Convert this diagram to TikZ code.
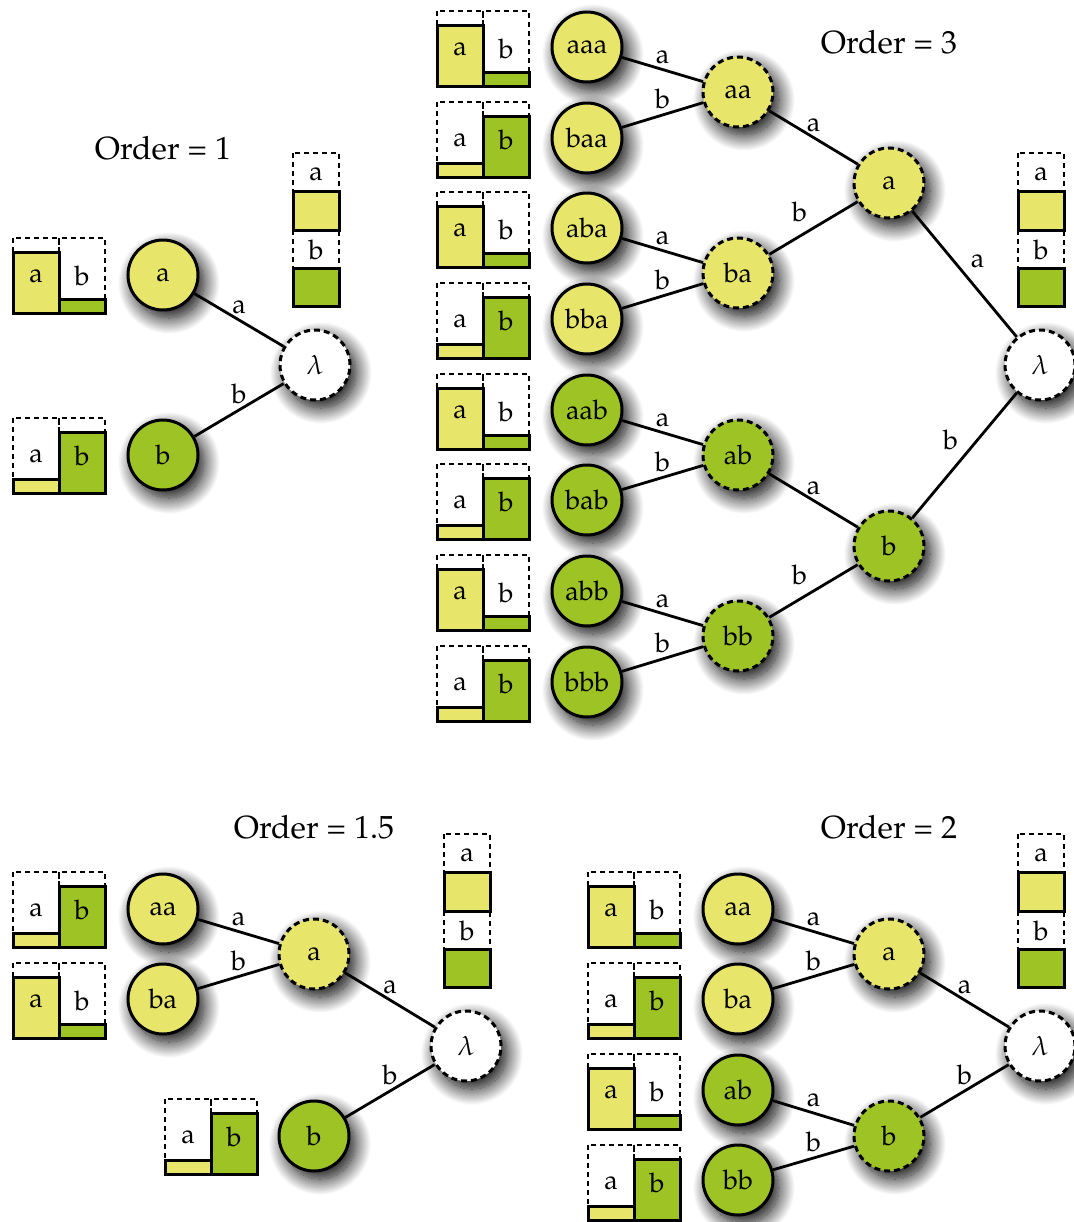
\documentclass[tikz,border=0pt]{standalone}
\usepackage[T1]{fontenc}
\usepackage{mathpazo}
\usepackage{tikz}
\usetikzlibrary{shadows.blur}
\definecolor{ylw}{RGB}{232,230,106}
\definecolor{grn}{RGB}{157,196,36}

\begin{document}
\begin{tikzpicture}[x=0.5pt, y=-0.5pt,
  state/.style={circle, draw, line width=1.5pt, minimum size=35pt, inner sep=0pt,
    font=\fontsize{13.5}{15}\selectfont,
    blur shadow={shadow xshift=3pt, shadow yshift=-4pt, shadow blur radius=8pt, shadow opacity=100, shadow blur steps=20}},
  leafa/.style={state, fill=ylw},
  leafb/.style={state, fill=grn},
  ctxa/.style={state, fill=ylw, dash pattern=on 3pt off 2pt},
  ctxb/.style={state, fill=grn, dash pattern=on 3pt off 2pt},
  rootnode/.style={state, fill=white, dash pattern=on 3pt off 2pt},
  link/.style={line width=1.4pt},
  elab/.style={font=\fontsize{13.5}{15}\selectfont, inner sep=2.5pt},
  slot/.style={dash pattern=on 2.5pt off 2pt, line width=0.6pt},
  bar/.style={draw, line width=1.5pt},
  lbl/.style={font=\fontsize{13.5}{15}\selectfont},
  title/.style={font=\fontsize{16}{19}\selectfont}]

  \useasboundingbox (0,0) rectangle (1074,1222); % page size

  % bar charts: left x / top y / height a / height b
  \foreach \x/\y/\ha/\hb in {13/238/61/14, 13/418/14/61,
      437/11/61/14, 437/102/14/61, 437/192/61/14, 437/283/14/61,
      437/374/61/14, 437/464/14/61, 437/555/61/14, 437/646/14/61,
      13/872/14/61, 13/963/61/14, 165/1099/14/61,
      588/872/61/14, 588/963/14/61, 588/1054/61/14, 588/1145/14/61}{
    \draw[slot] (\x,\y) rectangle ++(46,75) (\x+46,\y) rectangle ++(46,75);
    \draw[bar, fill=ylw] (\x,\y+75) rectangle ++(46,-\ha);
    \draw[bar, fill=grn] (\x+46,\y+75) rectangle ++(46,-\hb);
    \node[lbl] (ca\x-\y) at (\x+23,\y+37.5) {a};
    \node[lbl] (cb\x-\y) at (\x+69,\y+37.5) {b};
  }

  % legends
  \foreach \x/\y in {293/153, 1018/153, 444/834, 1018/834}{
    \draw[slot] (\x,\y) rectangle ++(46,38.5);
    \node[lbl] (la\x-\y) at (\x+23,\y+21) {a};
    \draw[bar, fill=ylw] (\x,\y+38.5) rectangle ++(46,38.5);
    \draw[slot] (\x,\y+77) rectangle ++(46,38.5);
    \node[lbl] (lb\x-\y) at (\x+23,\y+97) {b};
    \draw[bar, fill=grn] (\x,\y+115.5) rectangle ++(46,38);
  }

  % Order = 1
  \node[title] (t1) at (163,148) {Order = 1};
  \node[leafa] (o1a) at (163,275) {a};
  \node[leafb] (o1b) at (163,455) {b};
  \node[rootnode] (o1r) at (315,365) {$\lambda$};
  \draw[link] (o1a) -- node[elab, above] {a} (o1r);
  \draw[link] (o1b) -- node[elab, above] {b} (o1r);

  % Order = 3
  \node[title] (t3) at (889,42) {Order = 3};
  \node[leafa] (o3aaa) at (587,47) {aaa};
  \node[leafa] (o3baa) at (587,138) {baa};
  \node[leafa] (o3aba) at (587,228) {aba};
  \node[leafa] (o3bba) at (587,319) {bba};
  \node[leafb] (o3aab) at (587,410) {aab};
  \node[leafb] (o3bab) at (587,500) {bab};
  \node[leafb] (o3abb) at (587,591) {abb};
  \node[leafb] (o3bbb) at (587,682) {bbb};
  \node[ctxa] (o3aa) at (738,92) {aa};
  \node[ctxa] (o3ba) at (738,273) {ba};
  \node[ctxb] (o3ab) at (738,455) {ab};
  \node[ctxb] (o3bb) at (738,636) {bb};
  \node[ctxa] (o3a) at (889,183) {a};
  \node[ctxb] (o3b) at (889,546) {b};
  \node[rootnode] (o3r) at (1040,365) {$\lambda$};
  \draw[link] (o3aaa) -- node[elab, above] {a} (o3aa);
  \draw[link] (o3baa) -- node[elab, above] {b} (o3aa);
  \draw[link] (o3aba) -- node[elab, above] {a} (o3ba);
  \draw[link] (o3bba) -- node[elab, above] {b} (o3ba);
  \draw[link] (o3aab) -- node[elab, above] {a} (o3ab);
  \draw[link] (o3bab) -- node[elab, above] {b} (o3ab);
  \draw[link] (o3abb) -- node[elab, above] {a} (o3bb);
  \draw[link] (o3bbb) -- node[elab, above] {b} (o3bb);
  \draw[link] (o3aa) -- node[elab, above] {a} (o3a);
  \draw[link] (o3ba) -- node[elab, above left] {b} (o3a);
  \draw[link] (o3ab) -- node[elab, above] {a} (o3b);
  \draw[link] (o3bb) -- node[elab, above left] {b} (o3b);
  \draw[link] (o3a) -- node[elab, above right] {a} (o3r);
  \draw[link] (o3b) -- node[elab, above left] {b} (o3r);

  % Order = 1.5
  \node[title] (t15) at (314,827) {Order = 1.5};
  \node[leafa] (o15aa) at (163,909) {aa};
  \node[leafa] (o15ba) at (163,999) {ba};
  \node[ctxa] (o15a) at (314,954) {a};
  \node[leafb] (o15b) at (314,1136) {b};
  \node[rootnode] (o15r) at (466,1046) {$\lambda$};
  \draw[link] (o15aa) -- node[elab, above] {a} (o15a);
  \draw[link] (o15ba) -- node[elab, above] {b} (o15a);
  \draw[link] (o15a) -- node[elab, above] {a} (o15r);
  \draw[link] (o15b) -- node[elab, above] {b} (o15r);

  % Order = 2
  \node[title] (t2) at (889,827) {Order = 2};
  \node[leafa] (o2aa) at (738,909) {aa};
  \node[leafa] (o2ba) at (738,999) {ba};
  \node[leafb] (o2ab) at (738,1090) {ab};
  \node[leafb] (o2bb) at (738,1180) {bb};
  \node[ctxa] (o2a) at (889,954) {a};
  \node[ctxb] (o2b) at (889,1136) {b};
  \node[rootnode] (o2r) at (1040,1046) {$\lambda$};
  \draw[link] (o2aa) -- node[elab, above] {a} (o2a);
  \draw[link] (o2ba) -- node[elab, above] {b} (o2a);
  \draw[link] (o2ab) -- node[elab, above] {a} (o2b);
  \draw[link] (o2bb) -- node[elab, above] {b} (o2b);
  \draw[link] (o2a) -- node[elab, above] {a} (o2r);
  \draw[link] (o2b) -- node[elab, above] {b} (o2r);

\end{tikzpicture}
\end{document}
